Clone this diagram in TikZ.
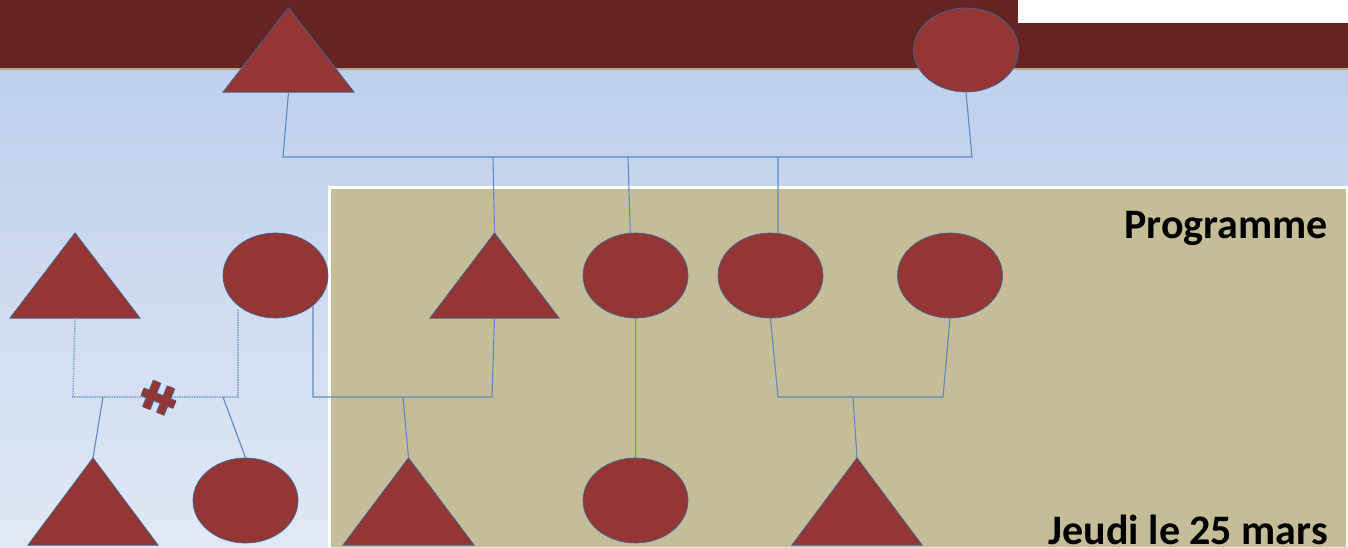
\documentclass[tikz,border=0pt]{standalone}
\usepackage{fontspec}
\setmainfont{Carlito}
\usetikzlibrary{shapes.geometric}
\definecolor{bandred}{HTML}{632423}
\definecolor{bandline}{HTML}{B5A888}
\definecolor{bgtop}{HTML}{BFD0EC}
\definecolor{bgbot}{HTML}{E1E8F5}
\definecolor{tan}{HTML}{C4BD97}
\definecolor{shapered}{HTML}{943634}
\definecolor{shapeedge}{HTML}{3F6698}
\definecolor{linkblue}{HTML}{5F89C0}
\definecolor{dotblue}{HTML}{8AA8D4}
\tikzset{
  ell/.style={ellipse, fill=shapered, draw=shapeedge, line width=0.7pt, minimum width=105pt, minimum height=85pt, inner sep=0pt},
  tribox/.style={rectangle, draw=none, minimum width=130pt, minimum height=85pt, inner sep=0pt},
  trishape/.style={fill=shapered, draw=shapeedge, line width=0.7pt, line join=miter},
  link/.style={draw=linkblue, line width=1.1pt},
  dotlink/.style={draw=dotblue, line width=1.6pt, dash pattern=on 1.5pt off 1pt},
  bigtext/.style={font=\bfseries\fontsize{42}{50}\selectfont, text=black, inner sep=0pt}
}
\begin{document}
\begin{tikzpicture}[x=1pt,y=-1pt]
\useasboundingbox (0,0) rectangle (1348,547);
% background
\shade[top color=bgtop, bottom color=bgbot] (0,68) rectangle (1348,547);
\fill[bandred] (0,0) rectangle (1348,68);
\fill[bandline] (0,67.5) rectangle (1348,70);
\fill[white] (1018,0) rectangle (1348,23);
\fill[white] (328,186) rectangle (1348,547);
\fill[tan] (331,189) rectangle (1346,547);
% texts
\node[bigtext, anchor=base east] (prog) at (1328,238) {Programme};
\node[bigtext, anchor=base east] (date) at (1328,544) {Jeudi le 25 mars};
% shapes
\node[tribox, minimum width=131pt, minimum height=84pt] (T0) at (288.5,50) {};
\node[ell, minimum height=84pt] (E0) at (966,50) {};
\node[tribox] (A) at (75,275.5) {};
\node[ell] (B) at (275.5,275.5) {};
\node[tribox, minimum width=129pt] (C) at (494.5,275.5) {};
\node[ell] (D) at (635.5,275.5) {};
\node[ell] (F) at (770.5,275.5) {};
\node[ell] (G) at (950,275.5) {};
\node[tribox, minimum height=87pt] (H) at (93,501.5) {};
\node[ell] (I) at (245.5,500.5) {};
\node[tribox, minimum width=131pt, minimum height=87pt] (J) at (408.5,501.5) {};
\node[ell] (K) at (635.5,500.5) {};
\node[tribox, minimum height=87pt] (L) at (857,501.5) {};
\foreach \t in {T0,A,C,H,J,L}{
  \draw[trishape] (\t.south west) -- (\t.south east) -- (\t.north) -- cycle;
}
% connector coordinates
\coordinate (p0a) at (283,157);
\coordinate (p0b) at (972,157);
\coordinate (c1) at (493,157);
\coordinate (c2) at (628,157);
\coordinate (c3) at (778,157);
\coordinate (da) at (73,397);
\coordinate (db) at (238,397);
\coordinate (dc1) at (103,397);
\coordinate (dc2) at (223,397);
\coordinate (ba) at (313,397);
\coordinate (bb) at (492,397);
\coordinate (bc) at (403,397);
\coordinate (fa) at (778,397);
\coordinate (fb) at (943,397);
\coordinate (fc) at (853,397);
% connectors
\draw[link] (T0.south) -- (p0a) -- (p0b) -- (E0.south);
\draw[link] (c1) -- (C.north);
\draw[link] (c2) -- (D.97);
\draw[link] (c3) -- (F.80);
\draw[dotlink] (A.south) -- (da) -- (db) -- (db |- B.-133);
\draw[link] (dc1) -- (H.north);
\draw[link] (dc2) -- (I.north);
\draw[link] (ba |- B.-38) -- (ba) -- (bb) -- (C.south);
\draw[link] (bc) -- (J.north);
\draw[link] (D.south) -- (K.north);
\draw[link] (F.south) -- (fa) -- (fb) -- (G.south);
\draw[link] (fc) -- (L.north);
% divorce mark
\begin{scope}[shift={(158,398)}, rotate=-22]
  \foreach \w/\c in {9pt/shapeedge,7pt/shapered}{
    \draw[\c, line width=\w] (-7,-15) -- (-7,14);
    \draw[\c, line width=\w] (8,-15) -- (8,14);
    \draw[\c, line width=\w] (-17,0) -- (18,0);
  }
\end{scope}
\end{tikzpicture}
\end{document}
